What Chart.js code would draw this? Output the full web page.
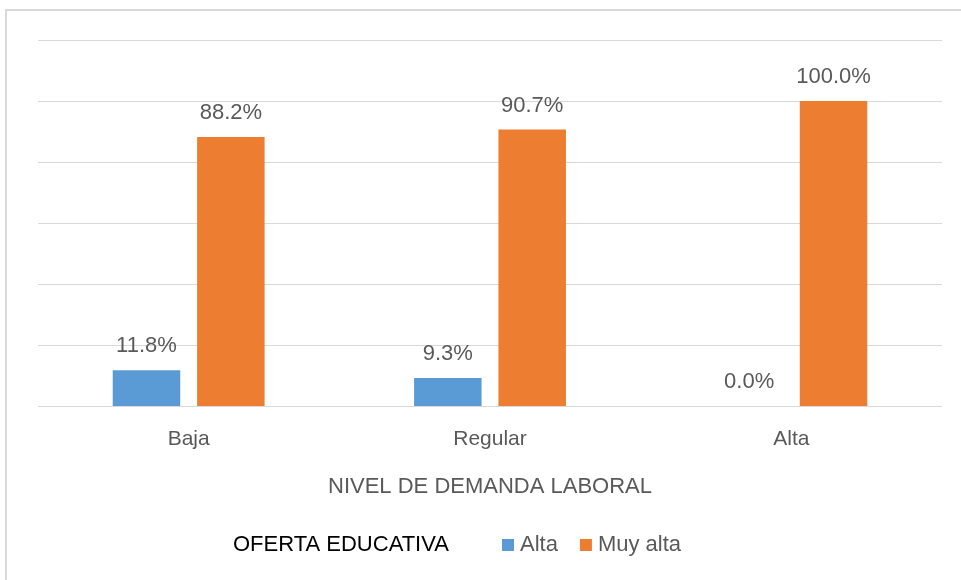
<!DOCTYPE html>
<html>
<head>
<meta charset="utf-8">
<script src="https://cdn.jsdelivr.net/npm/chart.js@4/dist/chart.umd.min.js"></script>
<style>
  html, body { margin: 0; padding: 0; background: #fff; overflow: hidden; }
  #wrap { position: relative; width: 961px; height: 580px; }
  #frame { position: absolute; left: 5px; top: 9px; width: 1000px; height: 1000px;
           border: 2px solid #d9d9d9; pointer-events: none; }
  canvas { position: absolute; left: 0; top: 0; }
</style>
</head>
<body>
<div id="wrap">
  <canvas id="chart" width="961" height="580"></canvas>
  <div id="frame"></div>
</div>
<script>
// categories on the x axis
const categories = ['Baja', 'Regular', 'Alta'];
// series values (percent)
const alta = [11.8, 9.3, 0.0];
const muyAlta = [88.2, 90.7, 100.0];
// series names and colors
const seriesNames = ['Alta', 'Muy alta'];
const seriesColors = ['#5b9bd5', '#ed7d31'];
const legendTitle = 'OFERTA EDUCATIVA';
const axisTitle = 'NIVEL DE DEMANDA LABORAL';

const FONT = '"Liberation Sans", Arial, sans-serif';
const GRAY = '#595959';

// value labels above each bar
const valueLabels = {
  id: 'valueLabels',
  afterDatasetsDraw(chart) {
    const ctx = chart.ctx;
    ctx.save();
    ctx.font = '22px ' + FONT;
    ctx.fillStyle = GRAY;
    ctx.textAlign = 'center';
    ctx.textBaseline = 'middle';
    chart.data.datasets.forEach((ds, i) => {
      chart.getDatasetMeta(i).data.forEach((bar, j) => {
        ctx.fillText(ds.data[j].toFixed(1) + '%', bar.x, bar.y - 24);
      });
    });
    ctx.restore();
  }
};

// legend with its title on the same row
const inlineLegend = {
  id: 'inlineLegend',
  afterDraw(chart) {
    const ctx = chart.ctx;
    const y = 545;
    ctx.save();
    ctx.textBaseline = 'middle';
    ctx.textAlign = 'left';
    ctx.font = '22px ' + FONT;
    ctx.fillStyle = '#000';
    ctx.fillText(legendTitle, 233, y);
    let x = 502;
    chart.data.datasets.forEach((ds) => {
      ctx.fillStyle = ds.backgroundColor;
      ctx.fillRect(x, y - 6, 12, 12);
      ctx.fillStyle = GRAY;
      ctx.fillText(ds.label, x + 18, y);
      x += 18 + ctx.measureText(ds.label).width + 22;
    });
    ctx.restore();
  }
};

new Chart(document.getElementById('chart'), {
  type: 'bar',
  plugins: [valueLabels, inlineLegend],
  data: {
    labels: categories,
    datasets: [
      { label: seriesNames[0], data: alta, backgroundColor: seriesColors[0] },
      { label: seriesNames[1], data: muyAlta, backgroundColor: seriesColors[1] },
    ],
  },
  options: {
    responsive: false,
    animation: false,
    layout: { padding: { left: 38, right: 19, top: 40, bottom: 80 } },
    datasets: { bar: { categoryPercentage: 0.56, barPercentage: 0.8 } },
    plugins: {
      legend: { display: false },
      tooltip: { enabled: false },
    },
    scales: {
      x: {
        grid: { display: false, drawTicks: false },
        border: { display: false },
        ticks: { color: GRAY, font: { family: FONT, size: 21 }, padding: 20 },
        title: {
          display: true, text: axisTitle, color: GRAY,
          font: { family: FONT, size: 22 }, padding: { top: 2, bottom: 0 },
        },
      },
      y: {
        min: 0, max: 120,
        ticks: { display: false, stepSize: 20 },
        grid: { color: '#d9d9d9', lineWidth: 1, drawTicks: false },
        border: { display: false },
      },
    },
  },
});
</script>
</body>
</html>
